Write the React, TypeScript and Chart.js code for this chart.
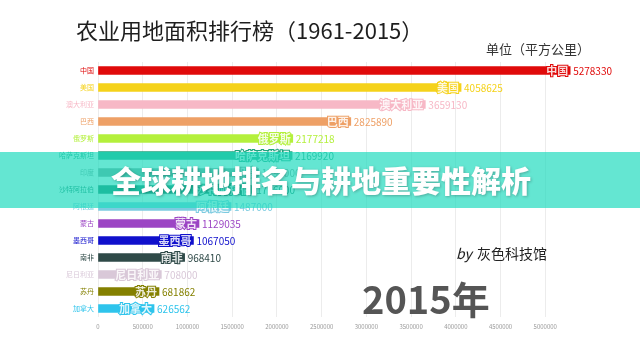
import React, { useEffect, useRef } from "react";
import { Chart, registerables } from "chart.js";

Chart.register(...registerables);

const countries = ["中国", "美国", "澳大利亚", "巴西", "俄罗斯", "哈萨克斯坦", "印度", "沙特阿拉伯", "阿根廷", "蒙古", "墨西哥", "南非", "尼日利亚", "苏丹", "加拿大"];
const values = [5278330, 4058625, 3659130, 2825890, 2177218, 2169920, 1796000, 1736000, 1487000, 1129035, 1067050, 968410, 708000, 681862, 626562];
const colors = ["#e00a0a", "#f5d21a", "#f7b8c6", "#eea066", "#b4f03c", "#1fa37e", "#7f9e95", "#0e7a5c", "#7ccbe0", "#9c45c4", "#1010cc", "#2f4a48", "#d9c8d8", "#848000", "#2ec4ec"];
const xTicks = [0, 500000, 1000000, 1500000, 2000000, 2500000, 3000000, 3500000, 4000000, 4500000, 5000000];

const CJK = '"Noto Sans CJK SC", "Noto Sans", sans-serif';

const overlayPlugin = {
  id: "overlay",
  afterDatasetsDraw(chart: any) {
    const ctx = chart.ctx;
    const meta = chart.getDatasetMeta(0);
    ctx.save();
    meta.data.forEach((bar: any, i: number) => {
      const c = colors[i];
      ctx.font = `10px ${CJK}`;
      ctx.textAlign = "left";
      ctx.textBaseline = "middle";
      ctx.fillStyle = c;
      ctx.fillText(String(values[i]), bar.x + 3, bar.y + 0.5);
      ctx.font = `bold 11px ${CJK}`;
      ctx.textAlign = "right";
      ctx.lineWidth = 2;
      ctx.strokeStyle = c;
      ctx.strokeText(countries[i], bar.x - 2, bar.y);
      ctx.fillStyle = "rgba(255,255,255,0.85)";
      ctx.fillText(countries[i], bar.x - 2, bar.y);
    });
    ctx.restore();
  },
  afterDraw(chart: any) {
    const ctx = chart.ctx;
    ctx.save();
    ctx.fillStyle = "#1e1e1e";
    ctx.textAlign = "left";
    ctx.textBaseline = "middle";
    ctx.font = `22px ${CJK}`;
    ctx.fillText("农业用地面积排行榜（1961-2015）", 76, 31);
    ctx.font = `13px ${CJK}`;
    ctx.fillStyle = "#333";
    ctx.fillText("单位（平方公里）", 486, 49);
    ctx.font = `italic 14px ${CJK}`;
    ctx.fillStyle = "#222";
    ctx.fillText("by", 456, 254);
    ctx.font = `14px ${CJK}`;
    ctx.fillText("灰色科技馆", 477, 254);
    ctx.font = `bold 38px ${CJK}`;
    ctx.fillStyle = "#555555";
    ctx.textBaseline = "alphabetic";
    ctx.fillText("2015年", 362, 314);
    // banner
    ctx.fillStyle = "rgba(34, 219, 191, 0.7)";
    ctx.fillRect(0, 152, 640, 56);
    ctx.font = `900 30px ${CJK}`;
    ctx.textAlign = "center";
    ctx.textBaseline = "middle";
    ctx.shadowColor = "rgba(0,0,0,0.25)";
    ctx.shadowBlur = 3;
    ctx.shadowOffsetX = 1;
    ctx.shadowOffsetY = 1;
    ctx.fillStyle = "#ffffff";
    ctx.fillText("全球耕地排名与耕地重要性解析", 321, 181);
    ctx.restore();
  },
};

export default function App() {
  const ref = useRef<HTMLCanvasElement>(null);
  useEffect(() => {
    document.body.style.margin = "0";
    const chart = new Chart(ref.current!, {
      type: "bar",
      data: {
        labels: countries,
        datasets: [
          {
            data: values,
            backgroundColor: colors,
            borderWidth: 0,
            barThickness: 8,
          },
        ],
      },
      options: {
        indexAxis: "y",
        animation: false,
        responsive: false,
        maintainAspectRatio: false,
        layout: { padding: { top: 62, right: 50, left: 0, bottom: 0 } },
        plugins: { legend: { display: false }, tooltip: { enabled: false }, title: { display: false } },
        scales: {
          x: {
            min: 0,
            max: 5500000,
            afterBuildTicks: (s: any) => {
              s.ticks = xTicks.map((v) => ({ value: v }));
            },
            afterFit: (s: any) => {
              s.height = 43;
            },
            grid: { color: "#ececec", drawTicks: false, lineWidth: 1 },
            border: { display: false },
            ticks: {
              padding: 6,
              font: { size: 6, family: CJK },
              color: "#9a9a9a",
              maxRotation: 0,
              autoSkip: false,
              callback: (v: any) => String(v),
            },
          },
          y: {
            afterFit: (s: any) => {
              s.width = 98;
            },
            grid: { display: false, drawTicks: false },
            border: { display: false },
            ticks: {
              padding: 4,
              font: { size: 7, family: CJK },
              color: (c: any) => colors[c.index],
              autoSkip: false,
            },
          },
        },
      },
      plugins: [overlayPlugin],
    } as any);
    return () => chart.destroy();
  }, []);
  return (
    <div style={{ position: "absolute", left: 0, top: 0, width: 640, height: 360, background: "#fff" }}>
      <canvas ref={ref} width={640} height={360} style={{ width: 640, height: 360 }} />
    </div>
  );
}
